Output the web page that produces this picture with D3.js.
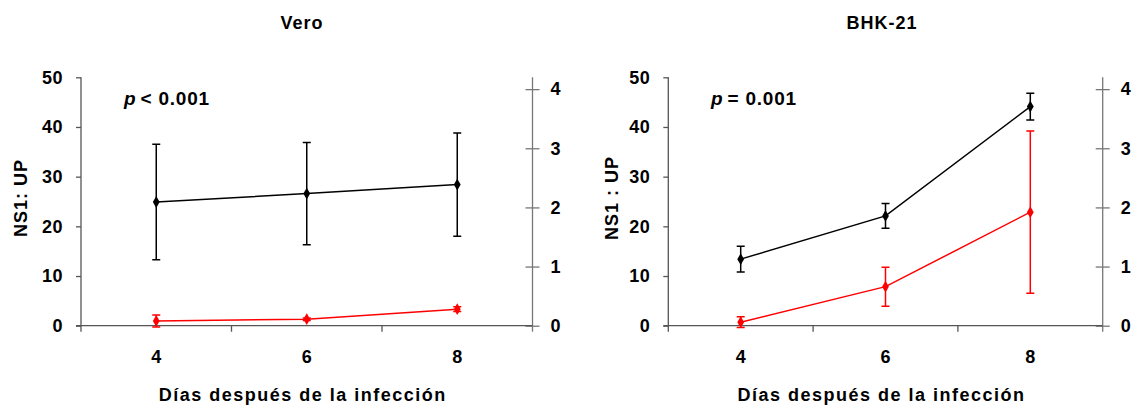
<!DOCTYPE html>
<html>
<head>
<meta charset="utf-8">
<script src="https://cdn.jsdelivr.net/npm/d3@7"></script>
<style>
  body { margin: 0; background: #fff; }
  svg { display: block; }
  text { font-family: "Liberation Sans", Arial, sans-serif; font-weight: bold; fill: #000; }
</style>
</head>
<body>
<div class="visual"></div>
<script>
// days after infection
const days = ["4", "6", "8"];

// NS1:UP ratio (left axis, black)
const veroNS1 = [24.9, 26.6, 28.4];
const veroNS1Err = [11.6, 10.3, 10.4];
const bhkNS1 = [13.4, 22.1, 44.1];
const bhkNS1Err = [2.6, 2.5, 2.7];

// second series (right axis, red)
const veroRed = [0.08, 0.11, 0.28];
const veroRedErr = [0.10, 0.02, 0.04];
const bhkRed = [0.06, 0.66, 1.92];
const bhkRedErr = [0.09, 0.33, 1.37];

const leftTicks = [0, 10, 20, 30, 40, 50];
const rightTicks = [0, 1, 2, 3, 4];

const W = 1134, H = 406;

const svg = d3.select(".visual").append("svg")
    .attr("width", W)
    .attr("height", H);

function styleTickText(sel) {
    sel.style("font-size", "18px")
        .style("font-family", "Liberation Sans, Arial, sans-serif")
        .style("font-weight", "bold")
        .style("letter-spacing", "0.5px")
        .attr("fill", "#111");
}

function drawPanel(cfg) {
    const g = svg.append("g");
    const yTop = 77.3, yBot = 325.7;

    const x = d3.scaleBand().domain(days).range([cfg.x0, cfg.x1]);
    const yL = d3.scaleLinear().domain([0, 50]).range([yBot, yTop]);
    const yR = d3.scaleLinear().domain([0, 4.2]).range([yBot, yTop]);

    // title
    g.append("text")
        .attr("x", cfg.titleX)
        .attr("y", 29)
        .attr("text-anchor", "middle")
        .style("font-size", "18px")
        .style("letter-spacing", "1px")
        .text(cfg.title);

    // left axis
    const axL = g.append("g")
        .attr("transform", `translate(${cfg.x0},0)`)
        .call(d3.axisLeft(yL).tickValues(leftTicks).tickSize(5).tickPadding(13).tickSizeOuter(0));
    axL.select(".domain").attr("stroke", "#555").attr("stroke-width", 1.3)
        .attr("d", `M0,${yTop}V${yBot + 6}`);
    axL.selectAll(".tick line").attr("stroke", "#555").attr("stroke-width", 1.3);
    axL.selectAll(".tick text").call(styleTickText);

    // right axis
    const axR = g.append("g")
        .attr("transform", `translate(${cfg.x1},0)`)
        .call(d3.axisRight(yR).tickValues(rightTicks).tickFormat(d3.format("d"))
            .tickSize(7).tickPadding(11).tickSizeOuter(0));
    axR.select(".domain").attr("stroke", "#777").attr("stroke-width", 1.3)
        .attr("d", `M0,${yTop}V${yBot + 6}`);
    axR.selectAll(".tick line").attr("stroke", "#777").attr("stroke-width", 1.3).attr("x1", -7);
    axR.selectAll(".tick text").call(styleTickText);

    // x axis line and ticks at band edges
    g.append("line")
        .attr("x1", cfg.x0 - 5).attr("x2", cfg.x1)
        .attr("y1", yBot).attr("y2", yBot)
        .attr("stroke", "#555").attr("stroke-width", 1.3);
    g.selectAll(".xedge")
        .data(days.slice(1))
        .enter().append("line")
        .attr("x1", d => x(d)).attr("x2", d => x(d))
        .attr("y1", yBot).attr("y2", yBot + 6)
        .attr("stroke", "#555").attr("stroke-width", 1.3);
    g.selectAll(".xlab")
        .data(days)
        .enter().append("text")
        .attr("x", d => x(d) + x.bandwidth() / 2)
        .attr("y", 363)
        .attr("text-anchor", "middle")
        .style("font-size", "18px")
        .text(d => d);

    // axis titles
    g.append("text")
        .attr("x", (cfg.x0 + cfg.x1) / 2 - 4)
        .attr("y", 401)
        .attr("text-anchor", "middle")
        .style("font-size", "18px")
        .style("letter-spacing", "1.5px")
        .text("Días después de la infección");

    g.append("text")
        .attr("transform", `translate(${cfg.yLabX},198) rotate(-90)`)
        .attr("text-anchor", "middle")
        .style("font-size", "18px")
        .style("letter-spacing", "1px")
        .text(cfg.yLabel);

    // p value
    const p = g.append("text")
        .attr("x", cfg.pX)
        .attr("y", 105)
        .style("font-size", "19px")
        .style("letter-spacing", "0.8px");
    p.append("tspan").style("font-style", "italic").text("p");
    p.append("tspan").attr("dx", 4).text(cfg.pText);

    // series
    const cx = d => x(d) + x.bandwidth() / 2;
    const series = [
        { vals: cfg.red, err: cfg.redErr, y: yR, color: "#ff0000" },
        { vals: cfg.black, err: cfg.blackErr, y: yL, color: "#000000" }
    ];

    series.forEach(s => {
        const pts = days.map((d, i) => ({ d, v: s.vals[i], e: s.err[i] }));
        const sg = g.append("g");

        sg.selectAll(".eb")
            .data(pts)
            .enter().append("path")
            .attr("d", p => {
                const xx = cx(p.d), hi = s.y(p.v + p.e), lo = s.y(p.v - p.e);
                return `M${xx},${hi}V${lo}M${xx - 4},${hi}H${xx + 4}M${xx - 4},${lo}H${xx + 4}`;
            })
            .attr("fill", "none")
            .attr("stroke", s.color)
            .attr("stroke-width", 1.5);

        sg.append("path")
            .datum(pts)
            .attr("d", d3.line().x(p => cx(p.d)).y(p => s.y(p.v)))
            .attr("fill", "none")
            .attr("stroke", s.color)
            .attr("stroke-width", 1.5);

        sg.selectAll(".mk")
            .data(pts)
            .enter().append("path")
            .attr("transform", p => `translate(${cx(p.d)},${s.y(p.v)})`)
            .attr("d", d3.symbol().type(d3.symbolDiamond).size(40))
            .attr("fill", s.color);
    });
}

drawPanel({
    title: "Vero", titleX: 302,
    x0: 81, x1: 532.5, yLabX: 27, yLabel: "NS1: UP",
    pX: 124, pText: "< 0.001",
    black: veroNS1, blackErr: veroNS1Err, red: veroRed, redErr: veroRedErr
});

drawPanel({
    title: "BHK-21", titleX: 882,
    x0: 668.3, x1: 1102.7, yLabX: 618, yLabel: "NS1 : UP",
    pX: 711, pText: "= 0.001",
    black: bhkNS1, blackErr: bhkNS1Err, red: bhkRed, redErr: bhkRedErr
});
</script>
</body>
</html>
